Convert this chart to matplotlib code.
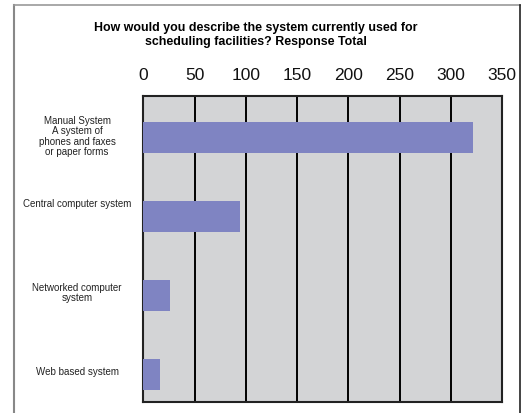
import matplotlib.pyplot as plt
from matplotlib.lines import Line2D

plt.rcParams['font.family'] = ['Liberation Sans', 'DejaVu Sans']

categories = ["Manual System\nA system of\nphones and faxes\nor paper forms",
              "Central computer system",
              "Networked computer\nsystem",
              "Web based system"]
totals = [321, 94, 26, 16]
xticks = [0, 50, 100, 150, 200, 250, 300, 350]
title = "How would you describe the system currently used for\nscheduling facilities? Response Total"
label_lift = [1.4, 9.7, 2.5, 2.2]  # pt, nudges the category labels up

fig = plt.figure(figsize=(5.21, 4.14), dpi=100)
ax = fig.add_axes([143.3 / 521, 11.3 / 414, 359 / 521, 306 / 414])

ax.set_facecolor("#d3d4d6")
ax.barh(range(len(totals)), totals, height=0.39, color="#7f84c2", zorder=3)
ax.set_xlim(0, 350)
ax.set_ylim(3.344, -0.527)

ax.set_xticks(xticks)
ax.xaxis.tick_top()
ax.tick_params(axis="x", length=0, pad=10, labelsize=12.5, labelcolor="#111111")
ax.grid(axis="x", color="black", linewidth=1.4, zorder=1)
ax.set_yticks([])
for s in ax.spines.values():
    s.set_color("#222222")
    s.set_linewidth(1.5)

for i, lab in enumerate(categories):
    ax.annotate(lab, xy=(0, i), xycoords=("axes fraction", "data"),
                xytext=(-47.7, label_lift[i]), textcoords="offset points",
                ha="center", va="center", fontsize=7, linespacing=1.05,
                color="#222222")

fig.text(255.5 / 521, 1 - 35 / 414, title, ha="center", va="center",
         fontsize=8.9, fontweight="bold", linespacing=1.3)

# outer frame of the original graphic
fig.add_artist(Line2D([14 / 521, 14 / 521], [0, 1 - 6 / 414], transform=fig.transFigure,
                      color="#888888", linewidth=1.5))
fig.add_artist(Line2D([14 / 521, 520 / 521], [1 - 6 / 414, 1 - 6 / 414], transform=fig.transFigure,
                      color="#999999", linewidth=1.2))
fig.add_artist(Line2D([520 / 521, 520 / 521], [0, 1 - 6 / 414], transform=fig.transFigure,
                      color="#222222", linewidth=1.2))

fig.savefig("out.png", dpi=100)
